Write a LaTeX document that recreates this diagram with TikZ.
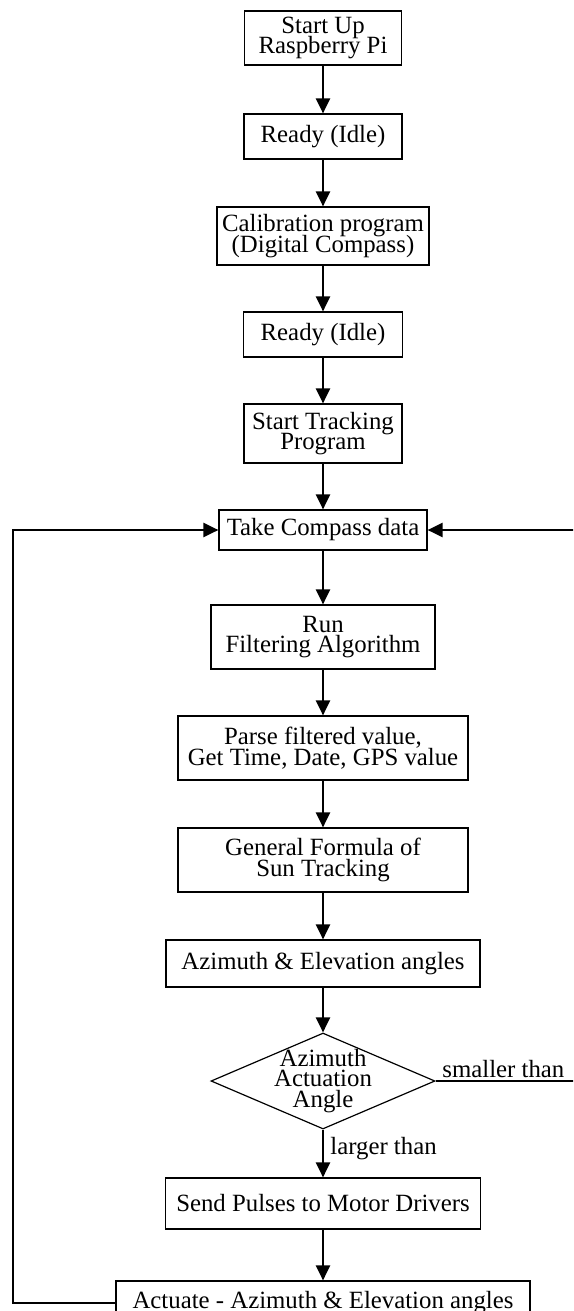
\documentclass[tikz,border=0pt]{standalone}
\usepackage{fontspec}
\setmainfont{Liberation Serif}
\usetikzlibrary{arrows.meta,shapes.geometric}
\newcommand\chartfont{\fontsize{12.4pt}{10.4pt}\selectfont\lineskiplimit=-20pt\lineskip=0pt}
\begin{document}
\begin{tikzpicture}[x=0.5pt,y=-0.5pt,
  box/.style={draw, line width=0.6pt, inner sep=0pt, align=center, font=\chartfont},
  arr/.style={line width=1.1pt, -{Triangle[length=7.5pt,width=7pt]}},
  lbl/.style={inner sep=0pt, font=\chartfont}]
\path[use as bounding box] (0,0) rectangle (573,1311);
\fill[white] (0,0) rectangle (573,1311);
\clip (0,0) rectangle (573,1311);
\node[box, minimum width=78.5pt, minimum height=27pt] (s1) at (323,38) {Start Up\\Raspberry Pi};
\node[box, minimum width=79pt, minimum height=22.5pt] (r1) at (323,136.5) {Ready (Idle)};
\node[box, minimum width=106pt, minimum height=29pt] (cal) at (323,236) {Calibration program\\(Digital Compass)};
\node[box, minimum width=79.5pt, minimum height=22.5pt] (r2) at (323,334.5) {Ready (Idle)};
\node[box, minimum width=79pt, minimum height=29.5pt] (st) at (323,433.5) {Start Tracking\\Program};
\node[box, minimum width=104pt, minimum height=20pt] (tc) at (323,530) {Take Compass data};
\node[box, minimum width=112pt, minimum height=32pt] (run) at (323,637) {Run\\Filtering Algorithm};
\node[box, minimum width=145pt, minimum height=32pt] (par) at (323,748) {Parse filtered value,\\Get Time, Date, GPS value};
\node[box, minimum width=145pt, minimum height=32pt] (gf) at (323,860) {General Formula of\\Sun Tracking};
\node[box, minimum width=157pt, minimum height=23.5pt] (az) at (323,963.5) {Azimuth \& Elevation angles};
\node[diamond, draw, line width=0.6pt, inner sep=0pt, minimum width=112pt, minimum height=48pt] (dia) at (323,1081) {};
\node[lbl, align=center] (diat) at (dia.center) {Azimuth\\Actuation\\Angle};
\node[box, minimum width=157.5pt, minimum height=25.5pt] (sp) at (323,1203.5) {Send Pulses to Motor Drivers};
\node[box, minimum width=207pt, minimum height=22pt] (act) at (323,1303) {Actuate - Azimuth \& Elevation angles};
\node[lbl, anchor=base west] (lt) at (330,1154) {larger than};
\node[lbl, anchor=base west] (sm) at (442,1077) {smaller than};
\coordinate (lft) at (13,0);
\coordinate (rgt) at (590,0);
\draw[arr] (s1) -- (r1);
\draw[arr] (r1) -- (cal);
\draw[arr] (cal) -- (r2);
\draw[arr] (r2) -- (st);
\draw[arr] (st) -- (tc);
\draw[arr] (tc) -- (run);
\draw[arr] (run) -- (par);
\draw[arr] (par) -- (gf);
\draw[arr] (gf) -- (az);
\draw[arr] (az) -- (dia);
\draw[arr] (dia) -- (sp);
\draw[arr] (sp) -- (act);
\draw[arr] (act.west) -- (act.west -| lft) |- (tc.west);
\draw[arr] (dia.east) -- (dia.east -| rgt) |- (tc.east);
\end{tikzpicture}
\end{document}
